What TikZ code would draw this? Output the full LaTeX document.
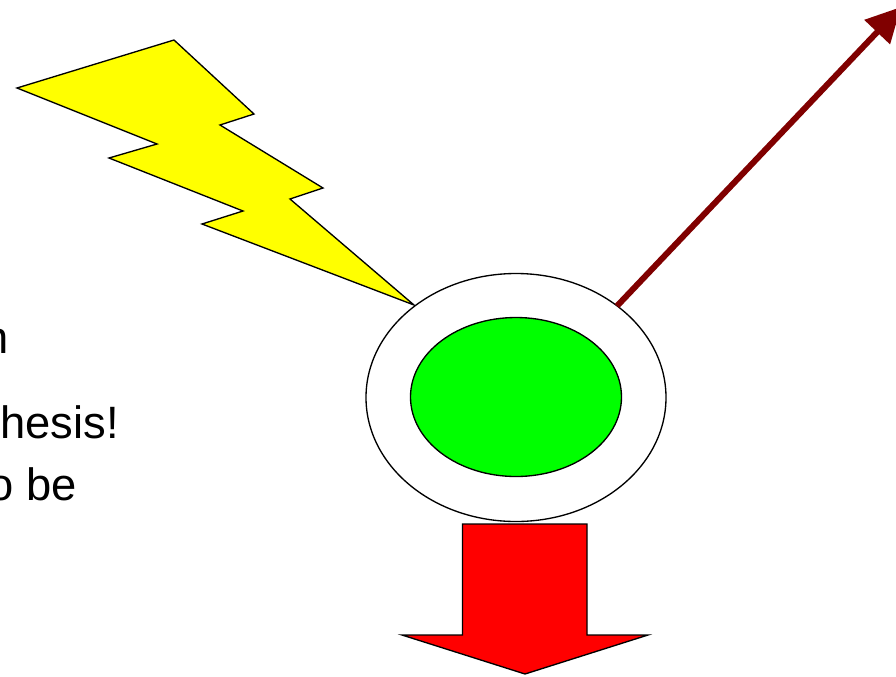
\documentclass[tikz,border=0pt]{standalone}
\usepackage{fontspec}
\setmainfont{Liberation Sans}
\usetikzlibrary{arrows.meta,shapes.geometric}
\definecolor{boltyellow}{RGB}{255,255,0}
\definecolor{coregreen}{RGB}{0,255,0}
\definecolor{arrowred}{RGB}{255,0,0}
\definecolor{rayred}{RGB}{128,0,0}
\tikzset{
  px/.style={x=0.75pt,y=-0.75pt},
  outline/.style={draw=black,line width=1pt,line join=miter},
  label/.style={anchor=base west,inner sep=0pt,font=\fontsize{34pt}{36pt}\selectfont,text=black}
}
\begin{document}
\begin{tikzpicture}[px]
\useasboundingbox (0,0) rectangle (896,676);
\clip (0,0) rectangle (896,676);
\fill[white] (0,0) rectangle (896,676);
\node[label] (t1) at (-17,353) {n};
\node[label] (t2) at (0,438) {hesis!};
\node[label] (t3) at (-12,500) {o be};
\draw[outline,fill=boltyellow] (17,88) -- (174,40) -- (254,114) -- (220,125) -- (323,188) -- (290,199) -- (414,305) -- (202,224) -- (243,211) -- (109,158) -- (157,144) -- cycle;
\node[outline,fill=white,ellipse,minimum width=225pt,minimum height=186pt,inner sep=0pt] (shell) at (516,397.5) {};
\node[outline,fill=coregreen,ellipse,minimum width=158.25pt,minimum height=119.25pt,inner sep=0pt] (core) at (516,397) {};
\draw[outline,fill=arrowred] (462.5,524) -- (587,524) -- (587,635) -- (648,635) -- (525,674) -- (402,635) -- (462.5,635) -- cycle;
\coordinate (a) at (617,306);
\coordinate (b) at (901,7);
\draw[draw=rayred,line width=4.5pt,-{Triangle[length=26pt,width=25.5pt]}] (a) -- (b);
\end{tikzpicture}
\end{document}
